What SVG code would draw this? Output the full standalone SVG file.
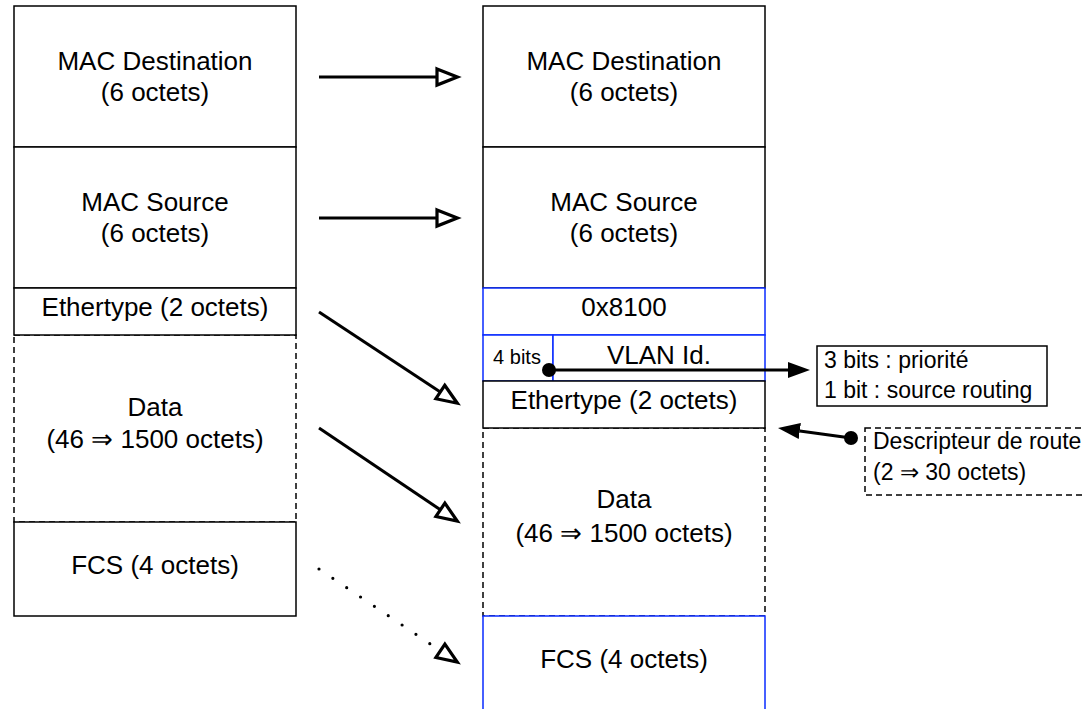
<svg xmlns="http://www.w3.org/2000/svg" width="1082" height="709" viewBox="0 0 1082 709">
<style>
text{font-family:"Liberation Sans",Arial,Helvetica,sans-serif;fill:#000}
.t{font-size:26px;text-anchor:middle}
.s{font-size:23px;text-anchor:start}
.xs{font-size:20px;text-anchor:middle}
.bk{fill:#fff;stroke:#000;stroke-width:1.5}
.bl{fill:#fff;stroke:#0a2bff;stroke-width:1.5}
.ds{fill:#fff;stroke:#000;stroke-width:1.5;stroke-dasharray:6 4}
.ln{fill:none;stroke:#000;stroke-width:3}
.dot{fill:none;stroke:#000;stroke-width:3.2;stroke-linecap:round;stroke-dasharray:0 16.7}
</style>
<defs>
<marker id="open" markerUnits="userSpaceOnUse" markerWidth="30" markerHeight="30" refX="2" refY="10" orient="auto" viewBox="-2 2 28 16">
<path d="M2,2.5 L21,10 L2,17.5 Z" fill="#fff" stroke="#000" stroke-width="3" stroke-dasharray="none"/>
</marker>
<marker id="fill" markerUnits="userSpaceOnUse" markerWidth="30" markerHeight="30" refX="0" refY="10" orient="auto" viewBox="0 0 30 20">
<path d="M0,2 L22,10 L0,18 Z" fill="#000"/>
</marker>
</defs>

<g id="left-mac-dest"><rect class="bk" x="14" y="6" width="282" height="141"/><text class="t" x="155" y="70">MAC Destination</text><text class="t" x="155" y="101">(6 octets)</text></g>
<g id="left-mac-src"><rect class="bk" x="14" y="147" width="282" height="141"/><text class="t" x="155" y="211">MAC Source</text><text class="t" x="155" y="242">(6 octets)</text></g>
<g id="left-data"><rect class="ds" x="14" y="335" width="282" height="187"/><text class="t" x="155" y="416">Data</text><text class="t" x="155" y="448">(46 ⇒ 1500 octets)</text></g>
<g id="left-ethertype"><rect class="bk" x="14" y="288" width="282" height="47"/><text class="t" x="155" y="316">Ethertype (2 octets)</text></g>
<g id="left-fcs"><rect class="bk" x="14" y="522" width="282" height="94"/><text class="t" x="155" y="574">FCS (4 octets)</text></g>

<g id="right-mac-dest"><rect class="bk" x="483" y="6" width="282" height="141"/><text class="t" x="624" y="70">MAC Destination</text><text class="t" x="624" y="101">(6 octets)</text></g>
<g id="right-mac-src"><rect class="bk" x="483" y="147" width="282" height="141"/><text class="t" x="624" y="211">MAC Source</text><text class="t" x="624" y="242">(6 octets)</text></g>
<g id="tpid"><rect class="bl" x="483" y="288" width="282" height="47"/><text class="t" x="624" y="316">0x8100</text></g>
<g id="four-bits"><rect class="bl" x="483" y="335" width="70" height="46"/><text class="xs" x="517" y="364">4 bits</text></g>
<g id="vlan-id"><rect class="bl" x="553" y="335" width="212" height="46"/><text class="t" x="659" y="364">VLAN Id.</text></g>
<g id="right-data"><rect class="ds" x="483" y="428" width="282" height="188"/><text class="t" x="624" y="508">Data</text><text class="t" x="624" y="542">(46 ⇒ 1500 octets)</text></g>
<g id="right-ethertype"><rect class="bk" x="483" y="381" width="282" height="47"/><text class="t" x="624" y="409">Ethertype (2 octets)</text></g>
<g id="right-fcs"><rect class="bl" x="483" y="616" width="282" height="94"/><text class="t" x="624" y="668">FCS (4 octets)</text></g>

<g id="bits-note"><rect class="bk" x="817" y="346" width="230" height="60"/><text class="s" x="824" y="368">3 bits : priorité</text><text class="s" x="824" y="398">1 bit : source routing</text></g>
<g id="route-desc"><rect class="ds" x="865" y="428" width="240" height="67"/><text class="s" x="873" y="449">Descripteur de route</text><text class="s" x="873" y="480">(2 ⇒ 30 octets)</text></g>

<g id="connectors">
<line class="ln" x1="319" y1="77" x2="437" y2="77" marker-end="url(#open)"/>
<line class="ln" x1="319" y1="218" x2="437" y2="218" marker-end="url(#open)"/>
<line class="ln" x1="319" y1="312" x2="440.3" y2="392" marker-end="url(#open)"/>
<line class="ln" x1="319" y1="428" x2="440.4" y2="509.8" marker-end="url(#open)"/>
<line class="dot" x1="319" y1="569" x2="440.4" y2="650.8" marker-end="url(#open)"/>
<line class="ln" x1="549" y1="370" x2="788" y2="370" marker-end="url(#fill)"/>
<circle cx="549" cy="370" r="7" fill="#000"/>
<line class="ln" x1="851" y1="438" x2="799.8" y2="431" marker-end="url(#fill)"/>
<circle cx="851" cy="438" r="7" fill="#000"/>
</g>
</svg>
